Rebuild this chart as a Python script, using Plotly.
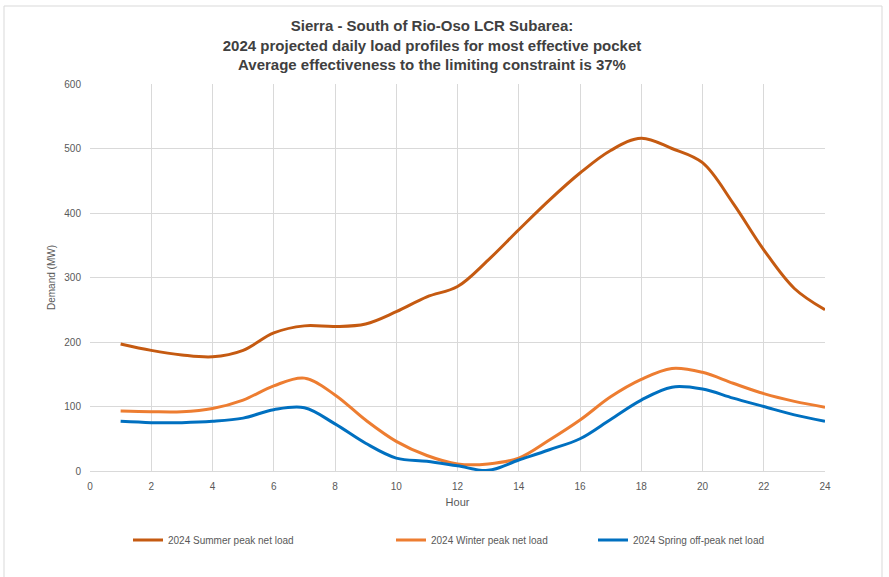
import plotly.graph_objects as go

hours = list(range(1, 25))
summer = [197, 187, 180, 177, 187, 214, 225, 224, 228, 247, 270, 286,
          327, 374, 420, 462, 497, 516, 500, 478, 415, 343, 283, 250]
winter = [93, 92, 92, 97, 110, 132, 144, 118, 79, 46, 24, 11,
          11, 20, 48, 79, 115, 142, 159, 153, 136, 120, 108, 99]
spring = [77, 75, 75, 77, 82, 95, 98, 73, 43, 20, 15, 8,
          1, 17, 33, 50, 80, 110, 130, 127, 113, 100, 87, 77]

names = ["2024 Summer peak net load", "2024 Winter peak net load", "2024 Spring off-peak net load"]
colors = ["#C55A11", "#ED7D31", "#0070C0"]
title_lines = ["Sierra - South of Rio-Oso LCR Subarea:",
               "2024 projected daily load profiles for most effective pocket",
               "Average effectiveness to the limiting constraint is 37%"]

FONT = "Liberation Sans, Arial, sans-serif"
W, H = 889, 577
L, R, T, B = 90, 825, 84, 471

fig = go.Figure()
legend_ids = ["legend", "legend2", "legend3"]
for name, ys, c, lg in zip(names, [summer, winter, spring], colors, legend_ids):
    fig.add_trace(go.Scatter(x=hours, y=ys, name=name, mode="lines", legend=lg,
                             line=dict(color=c, width=3, shape="spline", smoothing=1.0)))

leg_px = [128, 391, 593]
legend_common = dict(orientation="h", xref="paper", yref="container",
                     xanchor="left", yanchor="middle", y=1 - 540 / H,
                     font=dict(family=FONT, size=10, color="#595959"),
                     itemwidth=30, bgcolor="rgba(0,0,0,0)")
leg_layout = {}
for lg, px in zip(legend_ids, leg_px):
    leg_layout[lg] = dict(legend_common, x=(px - L) / (R - L))

fig.update_layout(
    width=W, height=H,
    margin=dict(l=L, r=W - R, t=T, b=H - B, autoexpand=False),
    paper_bgcolor="white", plot_bgcolor="white",
    font=dict(family=FONT, color="#595959", size=10),
    title=dict(text="<br>".join(title_lines), xref="container", x=432 / W, xanchor="center",
               yref="container", y=1 - 31 / H, yanchor="top",
               font=dict(family=FONT, size=15, color="#404040", weight="bold")),
    showlegend=True,
    xaxis=dict(range=[0, 24], dtick=2, tick0=0, showgrid=True, gridcolor="#D9D9D9",
               zeroline=False, showline=True, linecolor="#D9D9D9", ticks="",
               ticklabelstandoff=6,
               title=dict(text="Hour", font=dict(family=FONT, size=11, color="#595959"), standoff=7),
               tickfont=dict(family=FONT, size=10, color="#595959")),
    yaxis=dict(range=[0, 600], dtick=100, showgrid=True, gridcolor="#D9D9D9",
               zeroline=False, showline=False, ticks="",
               ticklabelstandoff=8,
               title=dict(text="Demand (MW)", font=dict(family=FONT, size=10, color="#595959"), standoff=6),
               tickfont=dict(family=FONT, size=10, color="#595959")),
    **leg_layout,
)

fig.add_shape(type="rect", xref="paper", yref="paper",
              x0=(4 - L) / (R - L), x1=(882 - L) / (R - L),
              y0=(B - 590) / (B - T), y1=(B - 6) / (B - T),
              line=dict(color="#D9D9D9", width=1), fillcolor="rgba(0,0,0,0)", layer="below")

fig.write_html("out.html", config={"displayModeBar": False},
               post_script="document.body.style.margin='0';")
